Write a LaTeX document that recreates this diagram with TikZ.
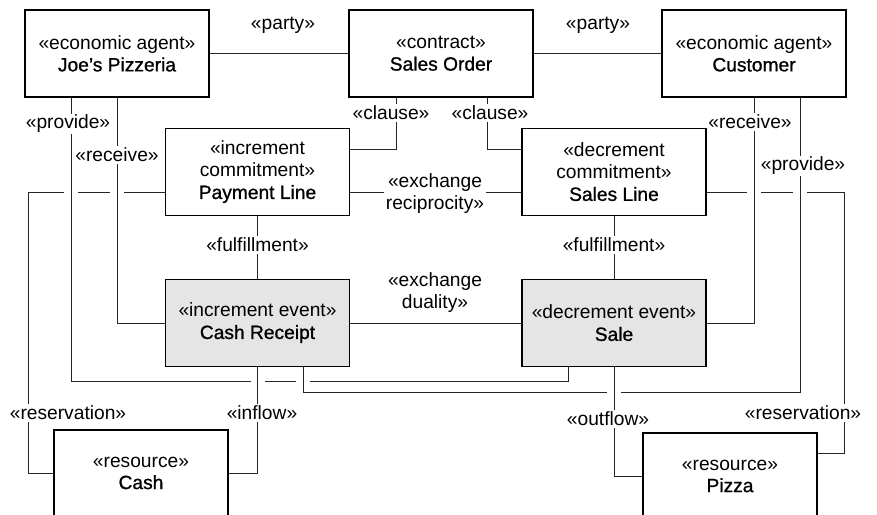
\documentclass[tikz,border=0pt]{standalone}
\usepackage{fontspec}
\setmainfont{Liberation Sans}
\newfontfamily\namefont{Liberation Sans}[FakeBold=1]
\usetikzlibrary{calc}
\begin{document}
\begin{tikzpicture}[x=1bp,y=-1bp,
  every node/.style={font=\fontsize{19.2bp}{22bp}\selectfont},
  box/.style={draw=black,line width=1.3bp,minimum width=184bp,minimum height=87bp,
              align=center,inner sep=0pt,fill=white},
  evt/.style={box,fill=black!10},
  res/.style={box,minimum width=174bp,minimum height=86bp},
  conn/.style={draw=black!85,line width=1bp},
  lbl/.style={fill=white,inner sep=1.5bp,align=center},
]
\useasboundingbox (0,0) rectangle (877,515);
\fill[white] (0,0) rectangle (877,515);
\clip (0,0) rectangle (877,515);

% classes
\node[box] (joe)   at (117,53.5)  {«economic agent»\\{\namefont Joe’s Pizzeria}};
\node[box] (so)    at (441,53.5)  {«contract»\\{\namefont Sales Order}};
\node[box] (cust)  at (754,53.5)  {«economic agent»\\{\namefont Customer}};
\node[box] (pay)   at (257.5,172) {«increment\\commitment»\\{\namefont Payment Line}};
\node[box] (sline) at (614,172)   {«decrement\\commitment»\\{\namefont Sales Line}};
\node[evt] (cr)    at (257.5,323) {«increment event»\\{\namefont Cash Receipt}};
\node[evt] (sale)  at (614,323)   {«decrement event»\\{\namefont Sale}};
\node[res] (cash)  at (141,473)   {«resource»\\{\namefont Cash}};
\node[res] (pizza) at (730,476)   {«resource»\\{\namefont Pizza}};

% routing points
\coordinate (clL) at (396,150);
\coordinate (clR) at (487,150);
\coordinate (xr)  at (0,193);
\coordinate (jpv) at (71,381);
\coordinate (jpe) at (568,381);
\coordinate (cpv) at (800,392);
\coordinate (cpe) at (303,392);
\coordinate (rl)  at (28,193);
\coordinate (rr)  at (844,193);
\coordinate (rrb) at (844,453);

% associations
\draw[conn] (joe.east) -- (so.west);
\draw[conn] (so.east) -- (cust.west);
\draw[conn] (so.south -| clL) |- (pay.east |- clL);
\draw[conn] (so.south -| clR) |- (sline.west |- clR);
\draw[conn] (pay.east |- xr) -- (sline.west |- xr);
\draw[conn] (pay.south) -- (cr.north);
\draw[conn] (sline.south) -- (sale.north);
\draw[conn] (cr.east) -- (sale.west);
\draw[conn] (pay.west |- rl) -- (rl) |- (cash.west);
\draw[conn] (sline.east |- rr) -- (rr) -- (rrb) -- (pizza.east |- rrb);
\draw[conn] (joe.south -| jpv) -- (jpv) -- (jpe) -- (sale.south -| jpe);
\draw[conn] (joe.south) |- (cr.west);
\draw[conn] (cust.south) |- (sale.east);
\draw[conn] (cust.south -| cpv) -- (cpv) -- (cpe) -- (cr.south -| cpe);
\draw[conn] (cr.south) |- (cash.east);
\draw[conn] (sale.south) |- (pizza.west);

% line jumps where connectors cross
\foreach \gx/\gy in {71/193,117/193,754/193,800/193,257.5/381,303/381,614/392} {
  \fill[white] (\gx-7,\gy-2) rectangle (\gx+7,\gy+2);
  \draw[conn] (\gx,\gy-3) -- (\gx,\gy+3);
}

% association labels
\node[lbl] (lparty1) at (283,25)  {«party»};
\node[lbl] (lparty2) at (598,25)  {«party»};
\node[lbl] (lclause1) at (391,113) {«clause»};
\node[lbl] (lclause2) at (490,113) {«clause»};
\node[lbl] (lprov1) at (68,124)   {«provide»};
\node[lbl] (lrecv1) at (117,155)  {«receive»};
\node[lbl] (lrecv2) at (750,122)  {«receive»};
\node[lbl] (lprov2) at (803,166)  {«provide»};
\node[lbl] (lrecip) at (435,194)  {«exchange\\reciprocity»};
\node[lbl] (lful1) at (257.5,245) {«fulfillment»};
\node[lbl] (lful2) at (614,245)   {«fulfillment»};
\node[lbl] (ldual) at (435,293)   {«exchange\\duality»};
\node[lbl] (lres1) at (68,413)    {«reservation»};
\node[lbl] (linfl) at (262,413)   {«inflow»};
\node[lbl] (loutf) at (608,419)   {«outflow»};
\node[lbl] (lres2) at (803,413)   {«reservation»};
\end{tikzpicture}
\end{document}
